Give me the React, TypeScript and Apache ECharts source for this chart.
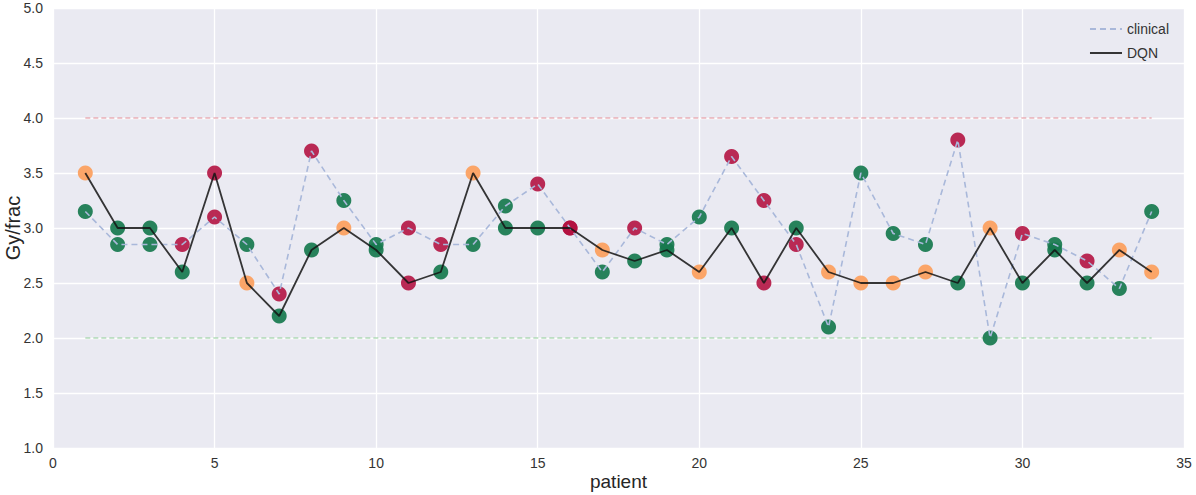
import React, { useEffect, useRef } from "react";
import * as echarts from "echarts";

const patients = [1,2,3,4,5,6,7,8,9,10,11,12,13,14,15,16,17,18,19,20,21,22,23,24,25,26,27,28,29,30,31,32,33,34];
const clinical = [3.15,2.85,2.85,2.85,3.1,2.85,2.4,3.7,3.25,2.85,3.0,2.85,2.85,3.2,3.4,3.0,2.6,3.0,2.85,3.1,3.65,3.25,2.85,2.1,3.5,2.95,2.85,3.8,2.0,2.95,2.85,2.7,2.45,3.15];
const dqn = [3.5,3.0,3.0,2.6,3.5,2.5,2.2,2.8,3.0,2.8,2.5,2.6,3.5,3.0,3.0,3.0,2.8,2.7,2.8,2.6,3.0,2.5,3.0,2.6,2.5,2.5,2.6,2.5,3.0,2.5,2.8,2.5,2.8,2.6];
// point classes: g = green, o = orange, r = red
const clinicalClass = ["g","g","g","r","r","g","r","r","g","g","r","r","g","g","r","r","g","r","g","g","r","r","r","g","g","g","g","r","g","r","g","r","g","g"];
const dqnClass = ["o","g","g","g","r","o","g","g","o","g","r","g","o","g","g","r","o","g","g","o","g","r","g","o","o","o","o","g","o","g","g","g","o","o"];
const upperLimit = 4.0;
const lowerLimit = 2.0;
const xTicks = [0,5,10,15,20,25,30,35];

const classColor: Record<string, string> = {
  g: "rgba(22,120,78,0.92)",
  o: "rgba(252,158,92,0.92)",
  r: "rgba(178,14,62,0.88)",
};

export default function App() {
  const ref = useRef<HTMLDivElement>(null);
  useEffect(() => {
    if (!ref.current) return;
    const chart = echarts.init(ref.current, undefined, { renderer: "svg" });
    const font = "'Liberation Sans', Arial, sans-serif";
    const pts = (vals: number[], cls: string[]) =>
      vals.map((v, i) => ({ value: [patients[i], v], itemStyle: { color: classColor[cls[i]], opacity: 1 } }));
    const first = patients[0];
    const last = patients[patients.length - 1];
    chart.setOption({
      animation: false,
      backgroundColor: "#ffffff",
      textStyle: { fontFamily: font },
      grid: {
        left: 53, right: 12, top: 8, bottom: 47,
        backgroundColor: "#eaeaf2", show: true, borderWidth: 0,
        containLabel: false, outerBoundsMode: "none",
      },
      legend: {
        orient: "vertical",
        right: 22,
        top: 17,
        itemWidth: 32,
        itemHeight: 12,
        itemGap: 10,
        data: ["clinical", "DQN"],
        itemStyle: { color: "rgba(0,0,0,0)", borderWidth: 0, opacity: 0 },
        textStyle: { fontSize: 14, color: "#333", fontFamily: font },
      },
      xAxis: {
        type: "value",
        min: xTicks[0],
        max: xTicks[xTicks.length - 1],
        interval: 5,
        name: "patient",
        nameLocation: "middle",
        nameGap: 24,
        nameMoveOverlap: false,
        nameTextStyle: { fontSize: 19, color: "#262626", fontFamily: font },
        axisLine: { show: false },
        axisTick: { show: false },
        axisLabel: { fontSize: 14, color: "#333", margin: 8, fontFamily: font },
        splitLine: { show: true, lineStyle: { color: "#ffffff", width: 1.3 } },
      },
      yAxis: {
        type: "value",
        min: 1,
        max: 5,
        interval: 0.5,
        name: "Gy/frac",
        nameLocation: "middle",
        nameGap: 30,
        nameMoveOverlap: false,
        nameTextStyle: { fontSize: 20, color: "#262626", fontFamily: font },
        axisLine: { show: false },
        axisTick: { show: false },
        axisLabel: { fontSize: 14, color: "#333", margin: 10, fontFamily: font, formatter: (v: number) => v.toFixed(1) },
        splitLine: { show: true, lineStyle: { color: "#ffffff", width: 1.3 } },
      },
      series: [
        {
          name: "upper",
          type: "line",
          data: [[first, upperLimit], [last, upperLimit]],
          symbol: "none",
          lineStyle: { color: "rgba(225,130,140,0.6)", width: 1.3, type: [5, 3] },
          z: 1,
          silent: true,
        },
        {
          name: "lower",
          type: "line",
          data: [[first, lowerLimit], [last, lowerLimit]],
          symbol: "none",
          lineStyle: { color: "rgba(120,195,130,0.55)", width: 1.3, type: [5, 3] },
          z: 1,
          silent: true,
        },
        {
          name: "clinicalPts",
          type: "scatter",
          data: pts(clinical, clinicalClass),
          symbolSize: 15,
          z: 2,
        },
        {
          name: "dqnPts",
          type: "scatter",
          data: pts(dqn, dqnClass),
          symbolSize: 15,
          z: 2,
        },
        {
          name: "clinical",
          type: "line",
          data: patients.map((p, i) => [p, clinical[i]]),
          symbol: "none",
          itemStyle: { color: "#a9b8da" },
          lineStyle: { color: "#a9b8da", width: 1.6, type: [6, 4] },
          z: 3,
        },
        {
          name: "DQN",
          type: "line",
          data: patients.map((p, i) => [p, dqn[i]]),
          symbol: "none",
          itemStyle: { color: "#222" },
          lineStyle: { color: "rgba(20,20,20,0.85)", width: 1.8 },
          z: 4,
        },
      ],
    });
    return () => chart.dispose();
  }, []);
  return <div ref={ref} style={{ position: "absolute", left: 0, top: 0, width: 1196, height: 495 }} />;
}
